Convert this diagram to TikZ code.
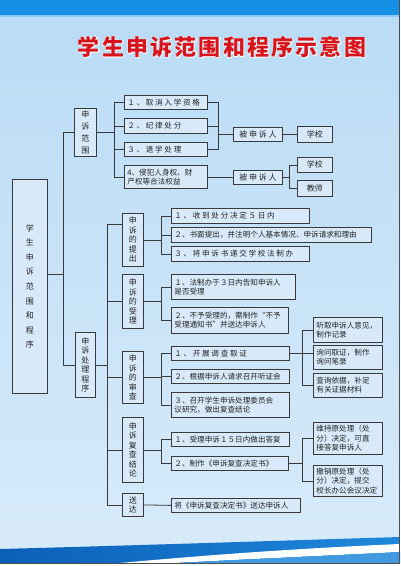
\documentclass[tikz,border=0pt]{standalone}
\usepackage{fontspec}
\setmainfont{Noto Sans CJK SC}
\newfontfamily\titlefont[LetterSpace=10]{Noto Sans CJK SC}
\newfontfamily\titleglow[LetterSpace=10, FakeBold=5]{Noto Sans CJK SC}
\newcommand\wide{\addfontfeature{LetterSpace=22}}
\usetikzlibrary{positioning}

\definecolor{txt}{HTML}{222222}
\definecolor{edge}{HTML}{3A3A3A}
\definecolor{boxbg}{HTML}{D8EAF9}
\definecolor{bgtop}{HTML}{B9DBF6}
\definecolor{bgbot}{HTML}{D8EBF9}
\definecolor{barblue}{HTML}{1690E4}
\definecolor{stripblue}{HTML}{8CC8F2}
\definecolor{deepblue}{HTML}{0B5FB8}
\definecolor{waveblue}{HTML}{1F88DA}
\definecolor{titlered}{HTML}{D7141C}

\begin{document}
\begin{tikzpicture}[
  x=1pt, y=-1pt,
  every node/.style={font=\fontsize{7.6}{9.4}\selectfont, text=txt},
  box/.style={draw=edge, line width=0.8pt, fill=boxbg, inner sep=1pt},
  itm/.style={box, anchor=north west, align=left, inner xsep=3pt},
  cbox/.style={box, anchor=north west, font=\fontsize{8}{9.6}\selectfont},
  vbox/.style={box, anchor=north west, align=center, minimum width=21pt,
    font=\fontsize{8}{9.5}\selectfont},
  ttl/.style={font=\titlefont\fontsize{22}{24}\selectfont\bfseries, text=titlered},
  glow/.style={font=\titleglow\fontsize{22}{24}\selectfont\bfseries, text=white},
  link/.style={draw=edge, line width=0.8pt},
]
\useasboundingbox (0,0) rectangle (400,566);

%% ---- background ----
\shade[top color=bgtop, bottom color=bgbot] (0,0) rectangle (400,566);
\fill[barblue] (0,0) rectangle (400,15);
\fill[stripblue] (0,15) rectangle (400,17);
\shade[left color=deepblue, right color=waveblue]
  (0,549) .. controls (150,545) and (300,540) .. (400,537) -- (400,563) -- (0,563) -- cycle;
\fill[white] (120,563) .. controls (240,552) and (330,547) .. (400,544)
  -- (400,552) .. controls (320,556) and (230,560) .. (175,563) -- cycle;
\fill[waveblue!85!white] (175,563) .. controls (230,560) and (320,556) .. (400,552)
  -- (400,563) -- cycle;
\fill[white] (0,563.5) rectangle (400,566);
\draw[gray!60!black, line width=1pt] (399.5,0) -- (399.5,563.5) -- (0,563.5);

%% ---- title ----
\node[glow] (titlebg) at (222,47) {学生申诉范围和程序示意图};
\node[ttl] (title) at (titlebg.center) {学生申诉范围和程序示意图};

%% ---- root ----
\node[vbox, minimum width=35pt, minimum height=214pt,
  font=\fontsize{8}{14.6}\selectfont] (big) at (12,179)
  {学\\生\\申\\诉\\范\\围\\和\\程\\序};

%% ---- scope of appeal ----
\node[vbox, minimum width=22pt, minimum height=48pt,
  font=\fontsize{8}{12.3}\selectfont] (fw) at (74,108) {申\\诉\\范\\围};

\node[itm, text width=77pt, minimum height=14pt] (fw1) at (124,95) {\wide １、取消入学资格};
\node[itm, text width=77pt, minimum height=15pt] (fw2) at (124,118) {\wide ２、纪律处分};
\node[itm, text width=77pt, minimum height=14pt] (fw3) at (124,142) {\wide ３、退学处理};
\node[itm, text width=77pt, minimum height=23pt] (fw4) at (124,165)
  {4、侵犯人身权、财\\产权等合法权益};

\node[cbox, minimum width=49pt, minimum height=14pt] (bs1) at (233,127) {\wide 被申诉人};
\node[cbox, minimum width=35pt, minimum height=16pt] (xx1) at (297,126) {学校};
\node[cbox, minimum width=49pt, minimum height=14pt] (bs2) at (233,170) {\wide 被申诉人};
\node[cbox, minimum width=35pt, minimum height=15pt] (xx2) at (297,157) {学校};
\node[cbox, minimum width=35pt, minimum height=16pt] (js) at (297,180) {教师};

%% ---- procedure ----
\node[vbox, minimum width=20pt, minimum height=65pt,
  font=\fontsize{8}{9.4}\selectfont] (proc) at (75,332) {申\\诉\\处\\理\\程\\序};

\node[vbox, minimum height=53pt] (tc) at (122,213) {申\\诉\\的\\提\\出};
\node[vbox, minimum height=54pt] (sl) at (122,274) {申\\诉\\的\\受\\理};
\node[vbox, minimum height=52pt] (sc) at (122,351) {申\\诉\\的\\审\\查};
\node[vbox, minimum height=65pt] (fc) at (122,417) {申\\诉\\复\\查\\结\\论};
\node[vbox, minimum height=23pt] (sd) at (122,493) {送\\达};

%% ---- steps ----
\node[itm, text width=132pt, minimum height=15pt] (tc1) at (171,208) {\wide １、收到处分决定５日内};
\node[itm, text width=194pt, minimum height=15pt] (tc2) at (171,227)
  {２、书面提出，并注明个人基本情况、申诉请求和理由};
\node[itm, text width=132pt, minimum height=15pt] (tc3) at (171,246) {\wide ３、将申诉书递交学校法制办};

\node[itm, text width=118pt, minimum height=25pt] (sl1) at (171,274)
  {１、法制办于３日内告知申诉人\\是否受理};
\node[itm, text width=111pt, minimum height=26pt] (sl2) at (171,307)
  {２、不予受理的，需制作“不予\\受理通知书”并送达申诉人};

\node[itm, text width=112pt, minimum height=14pt] (sc1) at (171,346) {\wide １、开展调查取证};
\node[itm, text width=112pt, minimum height=14pt] (sc2) at (171,369) {２、根据申诉人请求召开听证会};
\node[itm, text width=112pt, minimum height=25pt] (sc3) at (171,392)
  {３、召开学生申诉处理委员会\\议研究，做出复查结论};

\node[itm, text width=63pt, minimum height=25pt] (tq) at (313,317) {听取申诉人意见，\\制作记录};
\node[itm, text width=63pt, minimum height=24pt] (xw) at (313,345) {询问取证，制作\\询问笔录};
\node[itm, text width=63pt, minimum height=24pt] (cx) at (313,373) {查询依据，补足\\有关证据材料};

\node[itm, text width=112pt, minimum height=14pt] (fc1) at (171,432) {１、受理申诉１５日内做出答复};
\node[itm, text width=111pt, minimum height=14pt] (fc2) at (171,456) {２、制作《申诉复查决定书》};

\node[itm, text width=63pt, minimum height=32pt] (wc) at (313,422)
  {维持原处理（处\\分）决定，可直\\接答复申诉人};
\node[itm, text width=63pt, minimum height=31pt] (cs) at (313,465)
  {撤销原处理（处\\分）决定，提交\\校长办公会议决定};

\node[itm, text width=123pt, minimum height=14pt] (sd1) at (171,498) {将《申诉复查决定书》送达申诉人};

%% ---- connectors: root ----
\coordinate (k1) at (63,274);
\draw[link] (big.east |- k1) -- (k1);
\draw[link] (fw.west) -- ++(-11,0) |- (proc.west);

%% ---- connectors: scope ----
\draw[link] (fw.east) -- ++(18,0);
\draw[link] (fw1.west) -- ++(-10,0) |- (fw4.west);
\draw[link] (fw2.west) -- ++(-10,0);
\draw[link] (fw3.west) -- ++(-10,0);
\draw[link] (fw1.east) -- ++(11,0) |- (fw3.east);
\draw[link] (fw2.east) -- ++(11,0);
\draw[link] (bs1.west) -- ++(-15,0);
\draw[link] (bs1.east) -- (xx1.west);
\draw[link] (fw4.east) -- (fw4.east -| bs2.west);
\draw[link] (bs2.east) -- ++(7,0);
\draw[link] (xx2.west) -- ++(-8,0) |- (js.west);

%% ---- connectors: procedure ----
\draw[link] (proc.east) -- ++(12,0);
\draw[link] ([yshift=16pt]tc.west) -- ++(-15,0) |- (sd.west);
\draw[link] (sl.west) -- ++(-15,0);
\draw[link] (sc.west) -- ++(-15,0);
\draw[link] (fc.west) -- ++(-15,0);

\draw[link] (tc.east) -- ++(18,0);
\draw[link] (tc1.west) -- ++(-10,0) |- (tc3.west);
\draw[link] (tc2.west) -- ++(-10,0);

\draw[link] (sl.east) -- ++(18,0);
\draw[link] (sl1.west) -- ++(-10,0) |- (sl2.west);

\draw[link] (sc.east) -- ++(18,0);
\draw[link] (sc1.west) -- ++(-10,0) |- (sc3.west);
\draw[link] (sc2.west) -- ++(-10,0);
\draw[link] (sc1.east) -- (sc1.east -| xw.west);
\draw[link] (tq.west) -- ++(-11,0) |- (cx.west);

\draw[link] (fc.east) -- ++(18,0);
\draw[link] (fc1.west) -- ++(-10,0) |- (fc2.west);
\draw[link] (fc2.east) -- ++(14,0);
\draw[link] (wc.west) -- ++(-11,0) |- (cs.west);

\draw[link] (sd.east) -- (sd1.west);

\end{tikzpicture}
\end{document}
